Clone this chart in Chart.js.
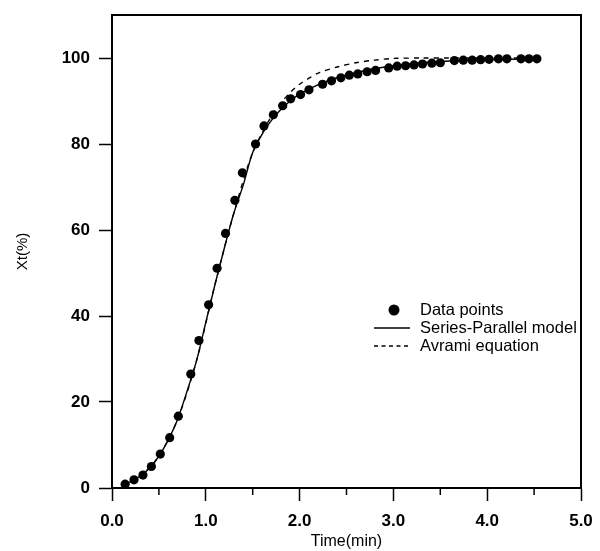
<!DOCTYPE html>
<html>
<head>
<meta charset="utf-8">
<script src="https://cdn.jsdelivr.net/npm/chart.js@4.4.0/dist/chart.umd.min.js"></script>
<style>
  html, body { margin: 0; padding: 0; background: #fff; }
</style>
</head>
<body>
<canvas id="grafico" width="600" height="551"></canvas>
<script>
// === DATOS ===
const tiempoPuntos = [0.14, 0.235, 0.33, 0.42, 0.515, 0.615, 0.707, 0.84, 0.927, 1.03, 1.12, 1.21, 1.31, 1.39, 1.53,
  1.62, 1.72, 1.82, 1.905, 2.01, 2.10, 2.245, 2.34, 2.44, 2.53, 2.62, 2.72, 2.81, 2.95, 3.04, 3.13, 3.22, 3.31,
  3.41, 3.50, 3.65, 3.745, 3.84, 3.93, 4.02, 4.12, 4.21, 4.36, 4.445, 4.53];
const xtPuntos = [0.9, 1.9, 3.0, 5.0, 7.9, 11.7, 16.7, 26.5, 34.3, 42.6, 51.1, 59.2, 66.9, 73.3, 80.0,
  84.2, 86.8, 88.9, 90.5, 91.5, 92.6, 93.9, 94.7, 95.4, 96.0, 96.3, 96.8, 97.1, 97.7, 98.1, 98.2, 98.4, 98.6,
  98.8, 98.9, 99.4, 99.5, 99.5, 99.6, 99.7, 99.8, 99.8, 99.8, 99.8, 99.8];

const tiempoModelo = [0.1, 0.2, 0.3, 0.4, 0.5, 0.6, 0.7, 0.8, 0.9, 1.0, 1.1, 1.2, 1.3, 1.4, 1.5, 1.62, 1.7, 1.8,
  1.9, 2.0, 2.2, 2.4, 2.6, 2.8, 3.0, 3.3, 3.6, 4.0, 4.5];
const xtModelo = [0.5, 1.5, 2.8, 4.6, 7.4, 11.2, 16.0, 22.5, 29.5, 38.5, 47.5, 56.0, 64.0, 70.5, 78.0, 83.0, 85.5, 88.0,
  90.0, 91.6, 93.8, 95.4, 96.6, 97.5, 98.2, 98.9, 99.3, 99.6, 99.8];

const tiempoAvrami = [0.1, 0.3, 0.5, 0.7, 0.9, 1.1, 1.3, 1.5, 1.7, 1.8, 1.9, 2.0, 2.1, 2.2, 2.4, 2.6, 2.8, 3.0,
  3.3, 3.6, 4.0, 4.5];
const xtAvrami = [0.5, 2.8, 7.4, 16.0, 29.5, 47.5, 64.0, 78.0, 86.5, 89.5, 92.0, 93.9, 95.3, 96.5, 97.9, 98.9, 99.5, 99.9,
  100.0, 100.0, 100.0, 100.0];

const ticksX = [0, 1, 2, 3, 4, 5];
const ticksXMenores = [0.5, 1.5, 2.5, 3.5, 4.5];
const ticksY = [0, 20, 40, 60, 80, 100];
const etiquetas = ["Data points", "Series-Parallel model", "Avrami equation"];

const pares = (xs, ys) => xs.map((x, i) => ({ x: x, y: ys[i] }));
const fuente = "'Liberation Sans', Arial, sans-serif";

// === MARCO Y TICKS MENORES ===
const marcoPlugin = {
  id: "marco",
  afterDraw(chart) {
    const { ctx, chartArea: a, scales } = chart;
    ctx.save();
    ctx.strokeStyle = "#000";
    ctx.lineWidth = 2;
    ctx.beginPath();
    ctx.moveTo(a.left, a.top);
    ctx.lineTo(a.right, a.top);
    ctx.lineTo(a.right, a.bottom);
    ctx.stroke();
    ctx.lineWidth = 1.5;
    ticksXMenores.forEach(v => {
      const px = scales.x.getPixelForValue(v);
      ctx.beginPath();
      ctx.moveTo(px, a.bottom);
      ctx.lineTo(px, a.bottom + 7);
      ctx.stroke();
    });
    ctx.restore();
  }
};

// === LEYENDA ===
const leyendaPlugin = {
  id: "leyenda",
  afterDraw(chart) {
    const ctx = chart.ctx;
    const xTexto = 420, y0 = 310, paso = 18;
    ctx.save();
    ctx.fillStyle = "#000";
    ctx.strokeStyle = "#000";
    ctx.font = "16.5px " + fuente;
    ctx.textBaseline = "middle";
    // punto
    ctx.beginPath();
    ctx.arc(394, y0, 5.5, 0, Math.PI * 2);
    ctx.fill();
    ctx.fillText(etiquetas[0], xTexto, y0);
    // linea continua
    ctx.lineWidth = 1.3;
    ctx.beginPath();
    ctx.moveTo(374, y0 + paso);
    ctx.lineTo(410, y0 + paso);
    ctx.stroke();
    ctx.fillText(etiquetas[1], xTexto, y0 + paso);
    // linea discontinua
    ctx.setLineDash([4, 3.5]);
    ctx.beginPath();
    ctx.moveTo(374, y0 + paso * 2);
    ctx.lineTo(410, y0 + paso * 2);
    ctx.stroke();
    ctx.setLineDash([]);
    ctx.fillText(etiquetas[2], xTexto, y0 + paso * 2);
    ctx.restore();
  }
};

// === GRAFICO ===
new Chart(document.getElementById("grafico"), {
  type: "scatter",
  data: {
    datasets: [
      {
        label: etiquetas[0],
        data: pares(tiempoPuntos, xtPuntos),
        showLine: false,
        pointRadius: 4.6,
        pointBackgroundColor: "#000",
        pointBorderWidth: 0,
        order: 0
      },
      {
        label: etiquetas[1],
        data: pares(tiempoModelo, xtModelo),
        showLine: true,
        borderColor: "#000",
        borderWidth: 1.4,
        pointRadius: 0,
        tension: 0.3,
        order: 1
      },
      {
        label: etiquetas[2],
        data: pares(tiempoAvrami, xtAvrami),
        showLine: true,
        borderColor: "#000",
        borderWidth: 1.4,
        borderDash: [5, 5],
        pointRadius: 0,
        tension: 0.3,
        order: 2
      }
    ]
  },
  options: {
    responsive: false,
    animation: false,
    layout: { padding: { left: 0, top: 15, right: 19, bottom: 0 } },
    plugins: {
      legend: { display: false },
      tooltip: { enabled: false }
    },
    scales: {
      x: {
        type: "linear",
        min: 0,
        max: 5,
        afterFit: s => { s.height = 63; s.paddingLeft = 0; s.paddingRight = 0; },
        afterBuildTicks: s => { s.ticks = ticksX.map(v => ({ value: v })); },
        grid: { drawOnChartArea: false, drawTicks: true, tickLength: 13, tickColor: "#000", tickWidth: 1.5 },
        border: { display: true, color: "#000", width: 2 },
        ticks: {
          color: "#000",
          padding: 10,
          maxRotation: 0,
          font: { family: fuente, size: 17, weight: "bold" },
          callback: v => Number(v).toFixed(1)
        },
        title: {
          display: true,
          text: "Time(min)",
          color: "#000",
          font: { family: fuente, size: 16 },
          padding: { top: 0, bottom: 0 }
        }
      },
      y: {
        type: "linear",
        min: 0,
        max: 110,
        afterFit: s => { s.width = 112; s.paddingTop = 0; s.paddingBottom = 0; },
        afterBuildTicks: s => { s.ticks = ticksY.map(v => ({ value: v })); },
        grid: { drawOnChartArea: false, drawTicks: true, tickLength: 13, tickColor: "#000", tickWidth: 1.5 },
        border: { display: true, color: "#000", width: 2 },
        ticks: {
          color: "#000",
          padding: 9,
          font: { family: fuente, size: 17, weight: "bold" }
        },
        title: {
          display: true,
          text: "Xt(%)",
          color: "#000",
          font: { family: fuente, size: 15 },
          padding: { top: 14, bottom: 0 }
        }
      }
    }
  },
  plugins: [marcoPlugin, leyendaPlugin]
});
</script>
</body>
</html>
